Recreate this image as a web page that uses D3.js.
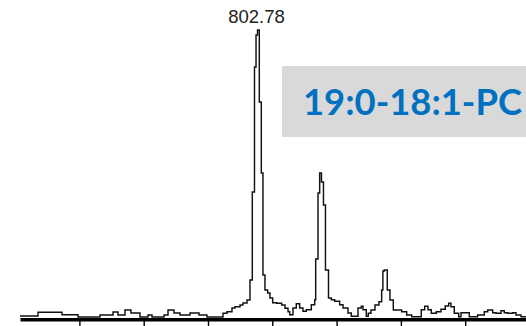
<!DOCTYPE html>
<html>
<head>
<meta charset="utf-8">
<script src="https://cdn.jsdelivr.net/npm/d3@7"></script>
<style>
  html, body { margin: 0; padding: 0; background: #fff; }
  svg { display: block; }
</style>
</head>
<body>
<svg id="chart" width="526" height="326"></svg>
<script>
// m/z values of the profile trace (step-after points)
const mz = [
  799.076, 799.356, 799.729, 799.978, 800.320, 800.523, 800.600, 800.709, 800.802, 800.942,
  801.067, 801.129, 801.316, 801.378, 801.471, 801.565, 801.720, 801.860, 801.984, 802.233,
  802.295, 802.373, 802.420, 802.498, 802.544, 802.607, 802.653, 802.689, 802.723, 802.747,
  802.770, 802.798, 802.829, 802.855, 802.886, 802.928, 802.964, 803.006, 803.068, 803.146,
  803.198, 803.245, 803.271, 803.322, 803.373, 803.426, 803.477, 803.529, 803.607, 803.660,
  803.675, 803.711, 803.737, 803.765, 803.796, 803.827, 803.874, 803.918, 803.970, 804.048,
  804.100, 804.177, 804.229, 804.333, 804.384, 804.411, 804.462, 804.493, 804.535, 804.597,
  804.659, 804.701, 804.720, 804.742, 804.788, 804.830, 804.882, 804.935, 805.012, 805.090,
  805.168, 805.271, 805.317, 805.370, 805.421, 805.473, 805.551, 805.624, 805.690, 805.743,
  805.779, 805.830, 805.899, 805.935, 806.012, 806.064, 806.194, 806.297, 806.350, 806.428,
  806.479, 806.557, 806.608, 806.661, 806.739, 806.790, 806.868, 806.946
];
// relative intensity (%) at each m/z
const intensity = [
  0.35, 1.64, 0.80, 0.00, 0.70, 1.74, 0.70, 2.44, 1.39, 0.00,
  0.70, 0.00, 0.70, 2.44, 1.39, 0.70, 1.39, 0.70, 0.00, 1.29,
  1.85, 3.14, 3.59, 4.18, 4.88, 5.92, 12.89, 43.55, 87.11, 98.26,
  100.0, 74.91, 50.17, 14.63, 9.41, 8.36, 6.62, 4.98, 4.77, 4.18,
  3.03, 1.85, 0.80, 3.14, 4.63, 3.14, 1.99, 2.54, 4.29, 6.03,
  20.21, 43.21, 50.17, 47.04, 39.02, 16.38, 6.62, 6.03, 5.47, 4.29,
  3.14, 1.39, 0.24, 3.14, 3.73, 2.54, 0.24, 1.29, 2.44, 4.18,
  5.33, 9.41, 16.00, 16.38, 9.41, 5.92, 2.44, 2.44, 1.85, 0.70,
  0.10, 0.10, 2.54, 3.73, 2.54, 1.29, 1.85, 2.68, 3.83, 4.77,
  3.59, 1.29, 0.10, 1.50, 1.50, 0.10, 0.70, 1.85, 2.44, 1.50,
  1.29, 2.20, 1.50, 1.29, 1.50, 0.70, 0.10, 0.10
];
const tickValues = [800, 801, 802, 803, 804, 805, 806];
const peakLabels = [{ mz: 802.77, intensity: 100, label: "802.78" }];
const annotation = "19:0-18:1-PC";

const svg = d3.select("#chart");

const x = d3.scaleLinear().domain([799.076, 806.946]).range([20, 526]);
const y = d3.scaleLinear().domain([0, 100]).range([317, 30]);

const data = mz.map((m, i) => ({ mz: m, v: intensity[i] }));

// annotation box
const boxG = svg.append("g");
boxG.append("rect")
  .attr("x", 282).attr("y", 66)
  .attr("width", 260).attr("height", 71)
  .attr("fill", "#d9d9d9");
boxG.append("text")
  .attr("x", 303).attr("y", 115)
  .attr("font-family", "Lato, 'Open Sans', sans-serif")
  .attr("font-weight", "bold")
  .attr("font-size", 37)
  .attr("textLength", 219)
  .attr("lengthAdjust", "spacingAndGlyphs")
  .attr("fill", "#0070c0")
  .text(annotation);

// trace
const line = d3.line()
  .x(d => x(d.mz))
  .y(d => y(d.v))
  .curve(d3.curveStepAfter);

svg.append("path")
  .datum(data)
  .attr("d", line)
  .attr("fill", "none")
  .attr("stroke", "#111")
  .attr("stroke-width", 1.45);

// axis
const axis = d3.axisBottom(x)
  .tickValues(tickValues)
  .tickSize(7)
  .tickSizeOuter(0)
  .tickFormat("");
const ax = svg.append("g")
  .attr("transform", "translate(0,319.3)")
  .call(axis);
ax.select(".domain").attr("stroke", "#000").attr("stroke-width", 3.4);
ax.selectAll(".tick line").attr("stroke", "#000").attr("stroke-width", 1.4);

// peak label
svg.selectAll("text.peak")
  .data(peakLabels)
  .enter().append("text")
  .attr("class", "peak")
  .attr("x", d => x(d.mz) - 1)
  .attr("y", d => y(d.intensity) - 7)
  .attr("text-anchor", "middle")
  .attr("font-family", "'Liberation Sans', Arial, sans-serif")
  .attr("font-size", 18.5)
  .attr("fill", "#222")
  .text(d => d.label);
</script>
</body>
</html>
